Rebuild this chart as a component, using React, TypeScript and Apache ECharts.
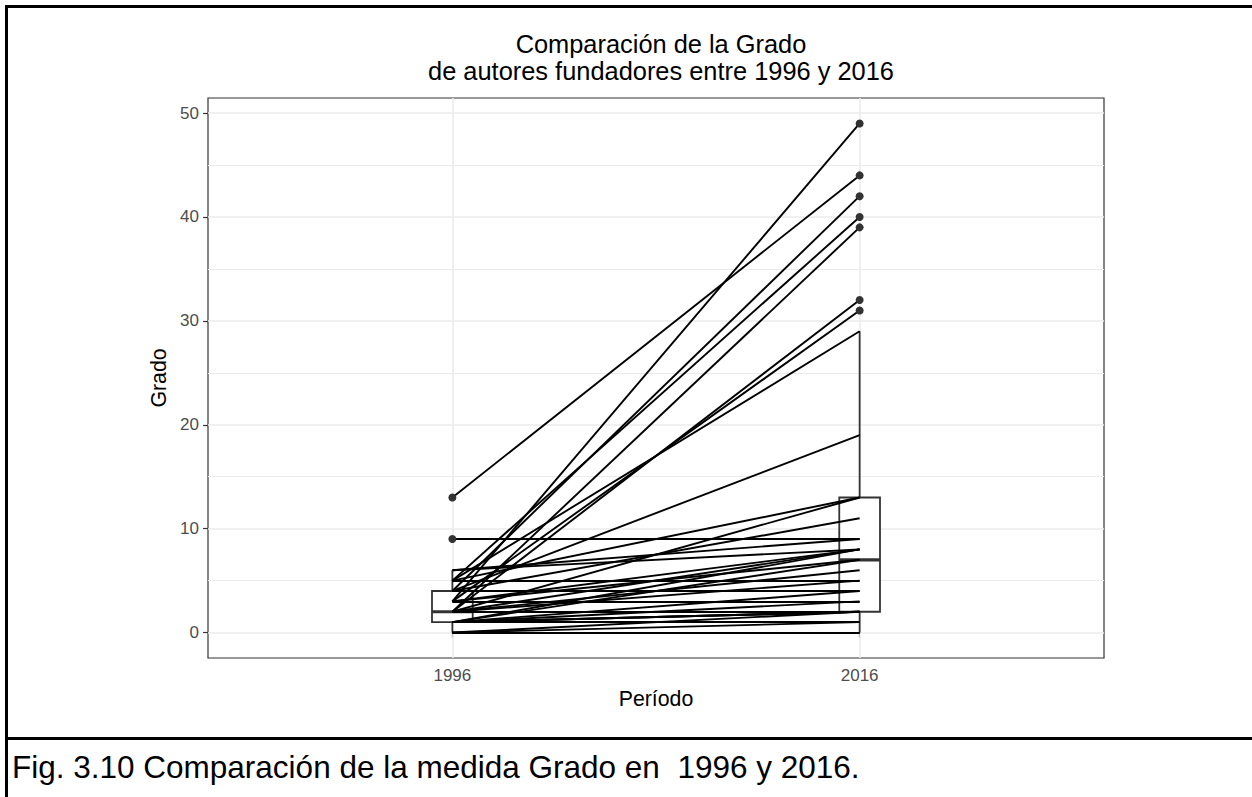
import React, { useEffect, useRef } from "react";
import * as echarts from "echarts";

// ---- data ----
const years = ["1996", "2016"];
// paired values per founding author (same index = same author)
const grado1996 = [13, 9, 6, 6, 5, 5, 5, 5, 4, 4, 4, 4, 3, 3, 3, 3, 3, 2, 2, 2, 2, 2, 2, 2, 2, 1, 1, 1, 1, 1, 1, 1, 1, 0, 0, 0, 0];
const grado2016 = [44, 9, 8, 9, 5, 13, 40, 29, 4, 42, 11, 19, 49, 8, 31, 7, 3, 39, 32, 8, 6, 13, 5, 2, 2, 1, 2, 7, 8, 4, 3, 2, 2, 0, 0, 1, 2];
const yTicks = [0, 10, 20, 30, 40, 50];
const yMinorTicks = [5, 15, 25, 35, 45];
const titleText = "Comparación de la Grado\nde autores fundadores entre 1996 y 2016";
const xTitle = "Período";
const yTitle = "Grado";
const caption = "Fig. 3.10 Comparación de la medida Grado en  1996 y 2016.";

const FONT = "'Liberation Sans', Arial, sans-serif";

function quantile(sorted: number[], p: number) {
  const h = (sorted.length - 1) * p;
  const lo = Math.floor(h);
  const hi = Math.min(lo + 1, sorted.length - 1);
  return sorted[lo] + (h - lo) * (sorted[hi] - sorted[lo]);
}

function boxStats(values: number[]) {
  const s = [...values].sort((a, b) => a - b);
  const q1 = quantile(s, 0.25);
  const med = quantile(s, 0.5);
  const q3 = quantile(s, 0.75);
  const iqr = q3 - q1;
  const upLim = q3 + 1.5 * iqr;
  const loLim = q1 - 1.5 * iqr;
  const inside = s.filter((v) => v >= loLim && v <= upLim);
  const outliers = s.filter((v) => v < loLim || v > upLim);
  return { min: inside[0], q1, med, q3, max: inside[inside.length - 1], outliers };
}

export default function App() {
  const ref = useRef<HTMLDivElement>(null);

  useEffect(() => {
    if (!ref.current) return;
    const chart = echarts.init(ref.current, null, { renderer: "svg" });

    const groups = [grado1996, grado2016];
    const stats = groups.map(boxStats);
    const boxData = stats.map((s, i) => [i + 1, s.min, s.q1, s.med, s.q3, s.max]);
    const outlierData: number[][] = [];
    stats.forEach((s, i) => s.outliers.forEach((v) => outlierData.push([i + 1, v])));
    const lineData = grado1996.map((v, i) => ({ coords: [[1, v], [2, grado2016[i]]] }));

    const all = [...grado1996, ...grado2016];
    const dMin = Math.min(...all);
    const dMax = Math.max(...all);
    const pad = (dMax - dMin) * 0.05;

    const gridColor = "#ebebeb";
    const markData: any[] = [
      ...yMinorTicks.map((v) => ({ yAxis: v, lineStyle: { color: gridColor, width: 1, type: "solid" } })),
      ...yTicks.map((v) => ({ yAxis: v, lineStyle: { color: gridColor, width: 1.6, type: "solid" } })),
      ...[1, 2].map((v) => ({ xAxis: v, lineStyle: { color: gridColor, width: 1.6, type: "solid" } })),
    ];

    const halfW = 0.05;
    const boxStroke = "#333333";

    chart.setOption({
      animation: false,
      backgroundColor: "transparent",
      textStyle: { fontFamily: FONT },
      title: {
        text: titleText,
        left: 656,
        top: 25,
        textAlign: "center",
        textStyle: { fontFamily: FONT, fontSize: 25.4, fontWeight: "normal", color: "#000", lineHeight: 27 },
      },
      grid: {
        left: 208,
        top: 98,
        width: 896,
        height: 560,
        show: true,
        borderColor: "#333333",
        borderWidth: 1.2,
        backgroundColor: "#ffffff",
      },
      xAxis: {
        type: "value",
        min: 1 - 0.6,
        max: 2 + 0.6,
        name: xTitle,
        nameLocation: "middle",
        nameGap: 27,
        nameTextStyle: { fontFamily: FONT, fontSize: 21.3, color: "#000" },
        axisLine: { show: false },
        axisTick: { show: true, customValues: [1, 2], length: 5, lineStyle: { color: "#333333", width: 1.2 } },
        axisLabel: {
          customValues: [1, 2],
          formatter: (v: number) => years[Math.round(v) - 1] ?? "",
          color: "#4d4d4d",
          fontSize: 17,
          margin: 9,
          fontFamily: FONT,
        },
        splitLine: { show: false },
      },
      yAxis: {
        type: "value",
        min: dMin - pad,
        max: dMax + pad,
        name: yTitle,
        nameLocation: "middle",
        nameGap: 33,
        nameTextStyle: { fontFamily: FONT, fontSize: 21.3, color: "#000" },
        axisLine: { show: false },
        axisTick: { show: true, customValues: yTicks, length: 5, lineStyle: { color: "#333333", width: 1.2 } },
        axisLabel: {
          customValues: yTicks,
          color: "#4d4d4d",
          fontSize: 17,
          margin: 9,
          fontFamily: FONT,
        },
        splitLine: { show: false },
        minorSplitLine: { show: false },
      },
      series: [
        {
          type: "custom",
          z: 2,
          silent: true,
          data: boxData,
          encode: { x: 0, y: [1, 2, 3, 4, 5] },
          renderItem: (params: any, api: any) => {
            const x = api.value(0);
            const mn = api.value(1);
            const q1 = api.value(2);
            const md = api.value(3);
            const q3 = api.value(4);
            const mx = api.value(5);
            const tl = api.coord([x - halfW, q3]);
            const br = api.coord([x + halfW, q1]);
            const cTop = api.coord([x, mx]);
            const cQ3 = api.coord([x, q3]);
            const cQ1 = api.coord([x, q1]);
            const cBot = api.coord([x, mn]);
            const mL = api.coord([x - halfW, md]);
            const mR = api.coord([x + halfW, md]);
            const ls = { stroke: boxStroke, lineWidth: 1.8, fill: null };
            return {
              type: "group",
              children: [
                { type: "line", shape: { x1: cTop[0], y1: cTop[1], x2: cQ3[0], y2: cQ3[1] }, style: ls },
                { type: "line", shape: { x1: cQ1[0], y1: cQ1[1], x2: cBot[0], y2: cBot[1] }, style: ls },
                {
                  type: "rect",
                  shape: { x: tl[0], y: tl[1], width: br[0] - tl[0], height: br[1] - tl[1] },
                  style: { stroke: boxStroke, lineWidth: 1.8, fill: "#ffffff" },
                },
                { type: "line", shape: { x1: mL[0], y1: mL[1], x2: mR[0], y2: mR[1] }, style: { stroke: boxStroke, lineWidth: 3.2 } },
              ],
            };
          },
        },
        {
          type: "lines",
          coordinateSystem: "cartesian2d",
          z: 3,
          silent: true,
          polyline: false,
          data: lineData,
          lineStyle: { color: "#000000", width: 1.9, opacity: 1, curveness: 0 },
        },
        {
          type: "scatter",
          z: 4,
          silent: true,
          data: outlierData,
          symbol: "circle",
          symbolSize: 8,
          itemStyle: { color: "#333333", opacity: 1 },
          markLine: {
            silent: true,
            z: 1,
            symbol: ["none", "none"],
            label: { show: false },
            animation: false,
            data: markData,
          },
        },
      ],
    });

    return () => chart.dispose();
  }, []);

  const bar = (style: React.CSSProperties) => (
    <div style={{ position: "absolute", background: "#000", ...style }} />
  );

  return (
    <div style={{ position: "absolute", left: 0, top: 0, width: 1252, height: 797, background: "#fff", overflow: "hidden" }}>
      <div ref={ref} style={{ position: "absolute", left: 0, top: 0, width: 1252, height: 737 }} />
      {bar({ left: 5, top: 5, width: 1247, height: 3 })}
      {bar({ left: 5, top: 5, width: 3, height: 792 })}
      {bar({ left: 5, top: 737, width: 1247, height: 3 })}
      <div
        style={{
          position: "absolute",
          left: 12,
          top: 749,
          fontFamily: FONT,
          fontSize: 31.5,
          lineHeight: "36px",
          color: "#000",
          whiteSpace: "pre",
        }}
      >
        {caption}
      </div>
    </div>
  );
}
